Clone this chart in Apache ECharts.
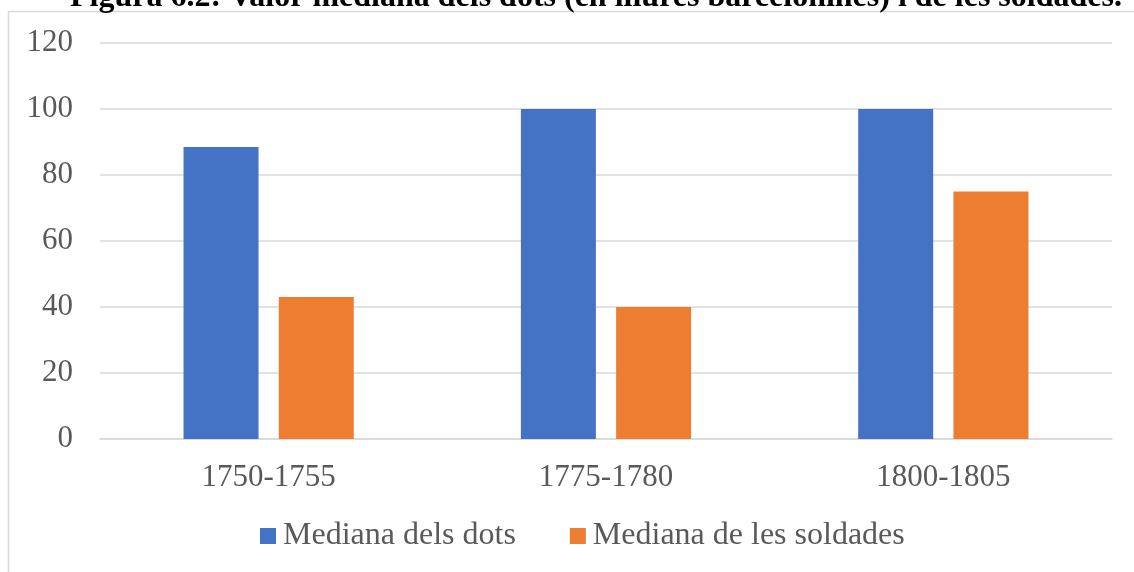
<!DOCTYPE html>
<html>
<head>
<meta charset="utf-8">
<script src="https://cdn.jsdelivr.net/npm/echarts@6/dist/echarts.min.js"></script>
<style>
html,body{margin:0;padding:0;background:#fff;}
#c{width:1134px;height:572px;}
</style>
</head>
<body>
<div id="c"></div>
<script>
const titleText = "Figura 6.2: Valor mediana dels dots (en lliures barcelonines) i de les soldades.";
const categories = ["1750-1755", "1775-1780", "1800-1805"];
const seriesNames = ["Mediana dels dots", "Mediana de les soldades"];
const dots = [88.5, 100, 100];
const soldades = [43, 40, 75];

const FONT = "'Liberation Serif', 'Times New Roman', serif";
const chart = echarts.init(document.getElementById('c'), null, {renderer: 'canvas'});
chart.setOption({
  backgroundColor: '#fff',
  animation: false,
  graphic: [{
    type: 'rect',
    shape: {x: 8.5, y: 11.5, width: 1140, height: 580},
    style: {fill: 'none', stroke: '#D9D9D9', lineWidth: 1.5},
    silent: true, z: -1
  }, {
    type: 'text',
    x: 596, y: -18,
    style: {
      text: titleText, textAlign: 'center', textVerticalAlign: 'top',
      font: "bold 32px 'Liberation Serif', 'Times New Roman', serif", fill: '#000'
    },
    silent: true, z: 10
  }],
  legend: {
    data: seriesNames,
    top: 520,
    left: 260,
    padding: 0,
    itemWidth: 16,
    itemHeight: 16,
    itemGap: 54,
    icon: 'rect',
    textStyle: {fontFamily: FONT, fontSize: 32, color: '#595959', padding: [0, 0, 0, 2]}
  },
  grid: {left: 100, right: 22, top: 43, bottom: 133, containLabel: false},
  xAxis: {
    type: 'category',
    data: categories,
    axisLine: {show: true, lineStyle: {color: '#D9D9D9', width: 1.5}},
    axisTick: {show: false},
    axisLabel: {fontFamily: FONT, fontSize: 31, color: '#595959', margin: 23}
  },
  yAxis: {
    type: 'value',
    min: 0, max: 120, interval: 20,
    axisLine: {show: false},
    axisTick: {show: false},
    splitLine: {lineStyle: {color: '#D9D9D9', width: 1.5}},
    axisLabel: {fontFamily: FONT, fontSize: 31, color: '#595959', margin: 27}
  },
  series: [
    {name: seriesNames[0], type: 'bar', data: dots, barWidth: 75, barGap: '27%',
     itemStyle: {color: '#4472C4'}},
    {name: seriesNames[1], type: 'bar', data: soldades, barWidth: 75, barGap: '27%',
     itemStyle: {color: '#ED7D31'}}
  ]
});
</script>
</body>
</html>
